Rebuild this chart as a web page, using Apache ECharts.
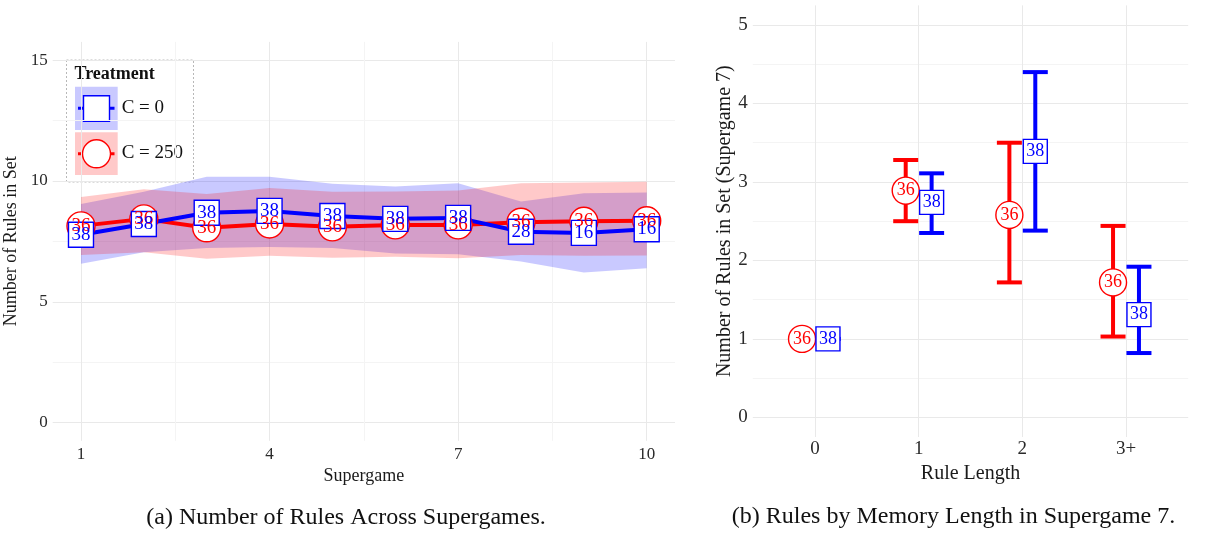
<!DOCTYPE html>
<html><head><meta charset="utf-8">
<script src="https://cdn.jsdelivr.net/npm/echarts@6/dist/echarts.min.js"></script>
<style>html,body{margin:0;padding:0;background:#fff}#c{width:1210px;height:536px}</style>
</head><body><div id="c"></div>
<script>
// ---------- Panel (a): rules across supergames ----------
const supergames = [1, 2, 3, 4, 5, 6, 7, 8, 9, 10];
const supergameTicks = [1, 4, 7, 10];
const blueMean = [7.77, 8.22, 8.68, 8.76, 8.55, 8.43, 8.47, 7.90, 7.85, 8.00];
const blueHigh = [9.05, 9.55, 10.17, 10.17, 9.88, 9.77, 9.90, 9.15, 9.49, 9.52];
const blueLow  = [6.57, 7.05, 7.23, 7.27, 7.23, 7.00, 6.97, 6.67, 6.21, 6.39];
const blueN    = [38, 38, 38, 38, 38, 38, 38, 28, 16, 16];
const redMean  = [8.14, 8.43, 8.06, 8.22, 8.10, 8.18, 8.18, 8.29, 8.33, 8.35];
const redHigh  = [9.33, 9.66, 9.46, 9.71, 9.55, 9.56, 9.60, 9.90, 9.93, 9.97];
const redLow   = [6.94, 7.05, 6.78, 6.90, 6.82, 6.86, 6.80, 6.94, 6.90, 6.91];
const redN     = [36, 36, 36, 36, 36, 36, 36, 36, 36, 36];
const leftYTicks = [0, 5, 10, 15];

// ---------- Panel (b): rules by memory length, supergame 7 ----------
const ruleLengths = ['0', '1', '2', '3+'];
const redMeanR  = [1.00, 2.89, 2.58, 1.72];
const redLowR   = [1.00, 2.50, 1.72, 1.03];
const redHighR  = [1.00, 3.28, 3.50, 2.44];
const redNR     = [36, 36, 36, 36];
const blueMeanR = [1.00, 2.74, 3.39, 1.31];
const blueLowR  = [1.00, 2.35, 2.38, 0.82];
const blueHighR = [1.00, 3.11, 4.40, 1.92];
const blueNR    = [38, 38, 38, 38];
const rightYTicks = [0, 1, 2, 3, 4, 5];

const legendTitle = 'Treatment';
const legendLabels = ['C = 0', 'C = 250'];
const captionA = '(a) Number of Rules Across Supergames.';
const captionB = '(b) Rules by Memory Length in Supergame 7.';

// ---------- styling ----------
const FONT = "'Liberation Serif', 'DejaVu Serif', serif";
const BLUE = '#0000ff', RED = '#ff0000';
const BLUE_FILL = 'rgba(0,0,255,0.21)', RED_FILL = 'rgba(255,0,0,0.21)';
const MAJOR = '#e9e9e9', MINOR = '#f4f4f4';
const DODGE = 0.125;

const chart = echarts.init(document.getElementById('c'), null, {renderer: 'canvas'});

function bandSeries(lo, hi, color) {
  return {
    type: 'custom', xAxisIndex: 0, yAxisIndex: 0, silent: true, z: 1,
    data: supergames.map((s, i) => [s, lo[i], hi[i]]),
    renderItem: (params, api) => {
      if (params.dataIndex !== 0) return null;
      const pts = [];
      for (let i = 0; i < supergames.length; i++) pts.push(api.coord([supergames[i], hi[i]]));
      for (let i = supergames.length - 1; i >= 0; i--) pts.push(api.coord([supergames[i], lo[i]]));
      return {type: 'polygon', shape: {points: pts}, style: {fill: color}};
    }
  };
}

function errorBarSeries(lo, hi, offset, color) {
  return {
    type: 'custom', xAxisIndex: 2, yAxisIndex: 2, silent: true, z: 2,
    data: ruleLengths.map((c, i) => [i + offset, lo[i], hi[i]]),
    renderItem: (params, api) => {
      const x = api.value(0);
      const pLo = api.coord([x, api.value(1)]);
      const pHi = api.coord([x, api.value(2)]);
      const hw = 12.5;
      const st = {stroke: color, lineWidth: 4};
      return {type: 'group', children: [
        {type: 'line', shape: {x1: pLo[0], y1: pLo[1], x2: pHi[0], y2: pHi[1]}, style: st},
        {type: 'line', shape: {x1: pLo[0] - hw, y1: pLo[1], x2: pLo[0] + hw, y2: pLo[1]}, style: st},
        {type: 'line', shape: {x1: pHi[0] - hw, y1: pHi[1], x2: pHi[0] + hw, y2: pHi[1]}, style: st}
      ]};
    }
  };
}

function markerSeries(xIdx, yIdx, data, symbol, size, color, fontSize, z) {
  return {
    type: 'scatter', xAxisIndex: xIdx, yAxisIndex: yIdx, z: z, silent: true,
    data: data, symbol: symbol, symbolSize: size,
    itemStyle: {color: '#ffffff', borderColor: color, borderWidth: 1.4, opacity: 1},
    label: {show: true, position: 'inside', formatter: p => String(p.value[2]),
      color: color, fontFamily: FONT, fontSize: fontSize},
    emphasis: {disabled: true}
  };
}

const axisText = (size) => ({fontFamily: FONT, fontSize: size, color: '#2a2a2a'});

const option = {
  animation: false,
  backgroundColor: '#ffffff',
  grid: [
    {left: 52.7, top: 41.9, width: 622.3, height: 398.9, containLabel: false, outerBoundsMode: 'none'},
    {left: 752.8, top: 5.4, width: 435.4, height: 431.6, containLabel: false, outerBoundsMode: 'none'}
  ],
  xAxis: [
    {gridIndex: 0, type: 'value', min: 0.55, max: 10.45,
      axisLine: {show: false, onZero: false}, axisTick: {show: false, customValues: supergameTicks},
      axisLabel: Object.assign({customValues: supergameTicks, margin: 5}, axisText(17)),
      splitLine: {show: true, lineStyle: {color: MAJOR, width: 1}},
      name: 'Supergame', nameLocation: 'middle', nameGap: 23,
      nameTextStyle: {fontFamily: FONT, fontSize: 18, color: '#1a1a1a'}},
    {gridIndex: 0, type: 'value', min: 0.55, max: 10.45, position: 'top',
      axisLine: {show: false}, axisTick: {show: false, customValues: [2.5, 5.5, 8.5]},
      axisLabel: {show: false}, splitLine: {show: true, lineStyle: {color: MINOR, width: 1}}},
    {gridIndex: 1, type: 'value', min: -0.6, max: 3.6,
      axisLine: {show: false, onZero: false}, axisTick: {show: false, customValues: [0, 1, 2, 3]},
      axisLabel: Object.assign({customValues: [0, 1, 2, 3], margin: 3,
        formatter: v => ruleLengths[Math.round(v)]}, axisText(19)),
      splitLine: {show: true, lineStyle: {color: MAJOR, width: 1}},
      name: 'Rule Length', nameLocation: 'middle', nameGap: 22,
      nameTextStyle: {fontFamily: FONT, fontSize: 20, color: '#1a1a1a'}}
  ],
  yAxis: [
    {gridIndex: 0, type: 'value', min: -0.75, max: 15.75,
      axisLine: {show: false, onZero: false}, axisTick: {show: false, customValues: leftYTicks},
      axisLabel: Object.assign({customValues: leftYTicks, margin: 5}, axisText(17)),
      splitLine: {show: true, lineStyle: {color: MAJOR, width: 1}},
      name: 'Number of Rules in Set', nameLocation: 'middle', nameGap: 26, nameRotate: 90,
      nameTextStyle: {fontFamily: FONT, fontSize: 18, color: '#1a1a1a'}},
    {gridIndex: 0, type: 'value', min: -0.75, max: 15.75, position: 'right',
      axisLine: {show: false}, axisTick: {show: false, customValues: [2.5, 7.5, 12.5]},
      axisLabel: {show: false}, splitLine: {show: true, lineStyle: {color: MINOR, width: 1}}},
    {gridIndex: 1, type: 'value', min: -0.25, max: 5.25,
      axisLine: {show: false, onZero: false}, axisTick: {show: false, customValues: rightYTicks},
      axisLabel: Object.assign({customValues: rightYTicks, margin: 5}, axisText(19)),
      splitLine: {show: true, lineStyle: {color: MAJOR, width: 1}},
      name: 'Number of Rules in Set (Supergame 7)', nameLocation: 'middle', nameGap: 15, nameRotate: 90,
      nameTextStyle: {fontFamily: FONT, fontSize: 20, color: '#1a1a1a'}},
    {gridIndex: 1, type: 'value', min: -0.25, max: 5.25, position: 'right',
      axisLine: {show: false}, axisTick: {show: false, customValues: [0.5, 1.5, 2.5, 3.5, 4.5]},
      axisLabel: {show: false}, splitLine: {show: true, lineStyle: {color: MINOR, width: 1}}}
  ],
  series: [
    bandSeries(blueLow, blueHigh, BLUE_FILL),
    bandSeries(redLow, redHigh, RED_FILL),
    {type: 'line', xAxisIndex: 0, yAxisIndex: 0, z: 2, silent: true, showSymbol: false,
      data: supergames.map((s, i) => [s, redMean[i]]), lineStyle: {color: RED, width: 4}},
    {type: 'line', xAxisIndex: 0, yAxisIndex: 0, z: 2, silent: true, showSymbol: false,
      data: supergames.map((s, i) => [s, blueMean[i]]), lineStyle: {color: BLUE, width: 4}},
    markerSeries(0, 0, supergames.map((s, i) => [s, redMean[i], redN[i]]), 'circle', 28, RED, 19, 3),
    markerSeries(0, 0, supergames.map((s, i) => [s, blueMean[i], blueN[i]]), 'rect', 25, BLUE, 19, 3),
    errorBarSeries(redLowR, redHighR, -DODGE, RED),
    errorBarSeries(blueLowR, blueHighR, DODGE, BLUE),
    markerSeries(2, 2, ruleLengths.map((c, i) => [i - DODGE, redMeanR[i], redNR[i]]), 'circle', 27, RED, 18, 3),
    markerSeries(2, 2, ruleLengths.map((c, i) => [i + DODGE, blueMeanR[i], blueNR[i]]), 'rect', 24, BLUE, 18, 3)
  ],
  graphic: [
    {type: 'group', z: 100, children: [
      {type: 'rect', shape: {x: 66.5, y: 60, width: 127, height: 122},
        style: {fill: '#ffffff', stroke: '#b8b8b8', lineWidth: 1, lineDash: [2, 2]}},
      {type: 'text', x: 74.5, y: 74, style: {text: legendTitle, fontFamily: FONT, fontSize: 18,
        fontWeight: 'bold', fill: '#111', textVerticalAlign: 'middle', textAlign: 'left'}},
      {type: 'rect', shape: {x: 75, y: 86.7, width: 42.7, height: 43.3}, style: {fill: BLUE_FILL}},
      {type: 'rect', shape: {x: 75, y: 132.3, width: 42.7, height: 42.7}, style: {fill: RED_FILL}},
      {type: 'line', shape: {x1: 78, y1: 108.3, x2: 114.5, y2: 108.3}, style: {stroke: BLUE, lineWidth: 3}},
      {type: 'rect', shape: {x: 83.5, y: 95.7, width: 26, height: 25.5},
        style: {fill: '#fff', stroke: BLUE, lineWidth: 1.4}},
      {type: 'line', shape: {x1: 78, y1: 153.8, x2: 114.5, y2: 153.8}, style: {stroke: RED, lineWidth: 3}},
      {type: 'circle', shape: {cx: 96.5, cy: 153.8, r: 14}, style: {fill: '#fff', stroke: RED, lineWidth: 1.4}},
      {type: 'text', x: 121.7, y: 108.3, style: {text: legendLabels[0], fontFamily: FONT, fontSize: 19,
        fill: '#111', textVerticalAlign: 'middle'}},
      {type: 'text', x: 121.7, y: 153.5, style: {text: legendLabels[1], fontFamily: FONT, fontSize: 19,
        fill: '#111', textVerticalAlign: 'middle'}}
    ]},
    {type: 'text', x: 346, y: 518, z: 100, style: {text: captionA, fontFamily: FONT, fontSize: 24,
      fill: '#111', textAlign: 'center', textVerticalAlign: 'middle'}},
    {type: 'text', x: 953.5, y: 517, z: 100, style: {text: captionB, fontFamily: FONT, fontSize: 24,
      fill: '#111', textAlign: 'center', textVerticalAlign: 'middle'}}
  ]
};
chart.setOption(option);
</script>
</body></html>
